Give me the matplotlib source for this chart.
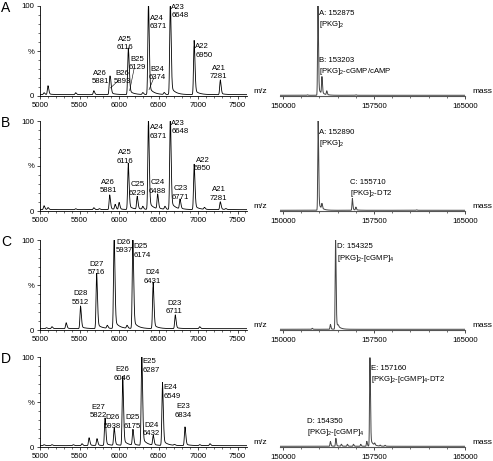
import numpy as np
import matplotlib
matplotlib.use('Agg')
import matplotlib.pyplot as plt
from matplotlib.ticker import MultipleLocator

plt.rcParams['font.family'] = ['Liberation Sans', 'DejaVu Sans']
plt.rcParams['mathtext.default'] = 'regular'

# ---- left panels: m/z spectra (peak centre, relative intensity %) ----
mz_A = [5050, 5100, 5450, 5680, 5881, 5893, 6116, 6129, 6300, 6371, 6374, 6570, 6648, 6950, 7281]
int_A = [2, 9, 2, 4, 16, 8, 46, 7, 2, 88, 8, 2, 98, 55, 15]
mz_B = [5050, 5100, 5450, 5680, 5750, 5881, 5950, 6000, 6116, 6229, 6300, 6371, 6488, 6580, 6648, 6771, 6950, 7080, 7281, 7350]
int_B = [4, 2, 1, 2, 1, 15, 5, 7, 47, 13, 3, 94, 15, 3, 98, 10, 46, 2, 8, 1]
mz_C = [5080, 5150, 5330, 5512, 5716, 5850, 5937, 6100, 6174, 6431, 6711, 7020]
int_C = [1, 2, 6, 23, 56, 3, 98, 3, 94, 47, 14, 2]
mz_D = [5050, 5150, 5420, 5530, 5620, 5720, 5822, 5938, 6046, 6175, 6287, 6432, 6549, 6700, 6834, 7020, 7150]
int_D = [1, 1, 1, 2, 8, 7, 28, 18, 70, 16, 95, 10, 64, 1, 19, 1, 2]

labels_A = ['A26\n5881', 'B26\n5893', 'A25\n6116', 'B25\n6129', 'A24\n6371', 'B24\n6374', 'A23\n6648', 'A22\n6950', 'A21\n7281']
labels_B = ['A26\n5881', 'A25\n6116', 'C25\n6229', 'A24\n6371', 'C24\n6488', 'A23\n6648', 'C23\n6771', 'A22\n6950', 'A21\n7281']
labels_C = ['D28\n5512', 'D27\n5716', 'D26\n5937', 'D25\n6174', 'D24\n6431', 'D23\n6711']
labels_D = ['E27\n5822', 'D26\n5938', 'E26\n6046', 'D25\n6175', 'E25\n6287', 'D24\n6432', 'E24\n6549', 'E23\n6834']

# ---- right panels: deconvoluted mass spectra ----
mass_A = [152875, 153203, 153600, 152000, 156000]
mi_A = [92, 17, 4, 0.5, 0.5]
mass_B = [152890, 153200, 155710, 156000, 161000]
mi_B = [91, 5, 12, 3, 0.5]
mass_C = [152400, 153900, 154325, 154550]
mi_C = [1, 5, 96, 1.5]
mass_D = [153900, 154350, 154800, 155300, 155800, 156400, 156900, 157160, 157550, 158000, 158400]
mi_D = [5, 8, 2, 2, 2, 2, 5, 90, 2, 1, 1]

mlabels_A = ['A: 152875\n[PKG]$_2$', 'B: 153203\n[PKG]$_2$-cGMP/cAMP']
mlabels_B = ['A: 152890\n[PKG]$_2$', 'C: 155710\n[PKG]$_2$-DT2']
mlabels_C = ['D: 154325\n[PKG]$_2$-[cGMP]$_4$']
mlabels_D = ['E: 157160\n[PKG]$_2$-[cGMP]$_4$-DT2', 'D: 154350\n[PKG]$_2$-[cGMP]$_4$']

# label placement (data coords of text block centre / left edge)
pos_A = [(5761, 20.6, 'center'), (6040, 20.6, 'center'), (6079, 58.3, 'center'), (6231, 36.1, 'center'),
         (6390, 81.7, 'left'), (6485, 25, 'center'), (6662, 93.9, 'left'), (6967, 50, 'left'), (7259, 26.1, 'center')]
pos_B = [(5863, 27.5, 'center'), (6079, 60.2, 'center'), (6231, 24.2, 'center'), (6390, 88, 'left'),
         (6485, 26.4, 'center'), (6662, 92.9, 'left'), (6777, 19.8, 'center'), (7056, 51.5, 'center'), (7259, 18.8, 'center')]
pos_C = [(5508, 35.6, 'center'), (5711, 68.3, 'center'), (5964, 92.8, 'left'), (6185, 87.8, 'left'),
         (6421, 58.9, 'center'), (6700, 25, 'center')]
pos_D = [(5736, 39.2, 'center'), (5914, 27.6, 'center'), (6041, 80.9, 'center'), (6167, 27.6, 'center'),
         (6300, 89.8, 'left'), (6409, 19.2, 'center'), (6565, 60.9, 'left'), (6815, 39.8, 'center')]
mpos_A = [(153000, 84), (153000, 32)]
mpos_B = [(153000, 80), (155500, 24)]
mpos_C = [(154450, 85)]
mpos_D = [(157260, 80), (151980, 21)]

# leader lines for the B-series labels in panel A
leaders_A = [(5893, 9, 5990, 17), (6135, 6, 6190, 30), (6380, 7, 6440, 20)]


def trace(x, centres, heights, sl, sr, base):
    y = np.full_like(x, base, dtype=float)
    for c, h in zip(centres, heights):
        dx = x - c
        s = np.where(dx < 0, sl, sr)
        y += h * np.exp(-0.5 * (dx / s) ** 2)
        y += np.where(dx > 0, 0.1 * h * np.exp(-np.clip(dx, 0, None) / (5 * sr)), 0)
    return y


W, H = 493, 461
fig = plt.figure(figsize=(W / 100, H / 100), dpi=100)
tops = [6, 121, 240, 357]
ph = 90

left_data = [(mz_A, int_A, labels_A, pos_A), (mz_B, int_B, labels_B, pos_B),
             (mz_C, int_C, labels_C, pos_C), (mz_D, int_D, labels_D, pos_D)]
right_data = [(mass_A, mi_A, mlabels_A, mpos_A), (mass_B, mi_B, mlabels_B, mpos_B),
              (mass_C, mi_C, mlabels_C, mpos_C), (mass_D, mi_D, mlabels_D, mpos_D)]
letters = ['A', 'B', 'C', 'D']
fs = 5.6

xl = np.arange(5000, 7620, 1.0)
xr = np.arange(149750, 165000, 5.0)

for i in range(4):
    bottom = 1 - (tops[i] + ph) / H
    # left spectrum
    ax = fig.add_axes([40 / W, bottom, 207 / W, ph / H])
    mz, ints, labs, pos = left_data[i]
    ax.plot(xl, trace(xl, mz, ints, 7, 11, 1.5), color='black', lw=0.6)
    ax.set_xlim(5000, 7620)
    ax.set_ylim(0, 100)
    for s in ['top', 'right']:
        ax.spines[s].set_visible(False)
    for s in ['left', 'bottom']:
        ax.spines[s].set_linewidth(0.6)
    ax.set_xticks([5000, 5500, 6000, 6500, 7000, 7500])
    ax.xaxis.set_minor_locator(MultipleLocator(100))
    ax.set_yticks([0, 50, 100])
    ax.set_yticklabels(['0', '%', '100'])
    ax.yaxis.set_minor_locator(MultipleLocator(10))
    ax.tick_params(which='major', length=2.5, width=0.5, labelsize=fs, pad=1.5)
    ax.tick_params(which='minor', length=1.3, width=0.4)
    for t, (tx, ty, ha) in zip(labs, pos):
        ax.text(tx, ty, t, ha=ha, va='center', fontsize=fs, linespacing=1.3)
    if i == 0:
        for px, py, tx, ty in leaders_A:
            ax.plot([px, tx], [py, ty], color='black', lw=0.4)
    ax.text(1.03, 0.05, 'm/z', transform=ax.transAxes, fontsize=fs + 0.4, ha='left', va='center')
    fig.text(1 / W, 1 - (tops[i] + 2) / H, letters[i], fontsize=10, ha='left', va='center')

    # right spectrum
    ax2 = fig.add_axes([280 / W, bottom, 185 / W, ph / H])
    ms, mi, mlabs, mpos = right_data[i]
    ax2.plot(xr, trace(xr, ms, mi, 30, 45, 0.8), color='#444444', lw=0.7)
    ax2.set_xlim(149750, 165000)
    ax2.set_ylim(0, 100)
    for s in ['top', 'right', 'left']:
        ax2.spines[s].set_visible(False)
    ax2.spines['bottom'].set_linewidth(0.8)
    ax2.spines['bottom'].set_color('#555555')
    ax2.set_yticks([])
    ax2.set_xticks([150000, 157500, 165000])
    ax2.xaxis.set_minor_locator(MultipleLocator(1500))
    ax2.tick_params(which='major', length=2, width=0.5, labelsize=fs, pad=3)
    ax2.tick_params(which='minor', length=1.2, width=0.4)
    for t, (tx, ty) in zip(mlabs, mpos):
        ax2.text(tx, ty, t, ha='left', va='center', fontsize=fs, linespacing=1.3)
    ax2.text(1.04, 0.05, 'mass', transform=ax2.transAxes, fontsize=fs + 0.4, ha='left', va='center')

fig.savefig('out.png', dpi=100)
